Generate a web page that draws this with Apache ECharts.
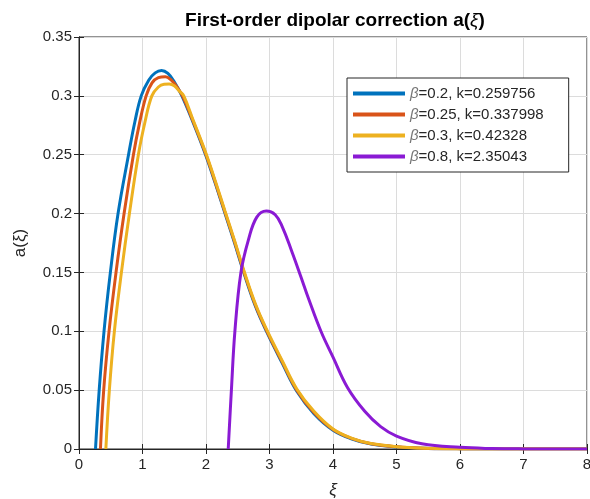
<!DOCTYPE html>
<html>
<head>
<meta charset="utf-8">
<script src="https://cdn.jsdelivr.net/npm/echarts@6/dist/echarts.min.js"></script>
<style>html,body{margin:0;padding:0;background:#fff}#c{width:590px;height:499px}</style>
</head>
<body>
<div id="c"></div>
<script>
// Data: [xi, a(xi)]
const seriesNames = ['β=0.2, k=0.259756', 'β=0.25, k=0.337998', 'β=0.3, k=0.42328', 'β=0.8, k=2.35043'];
const beta02 = [[0.26,0],[0.318,0.05],[0.394,0.10],[0.494,0.15],[0.615,0.20],[0.78,0.25],[0.88,0.278],[0.98,0.30],[1.1,0.3135],[1.2,0.3195],[1.3,0.3215],[1.4,0.319],[1.5,0.312],[1.62,0.30],[1.8,0.277],[2.0,0.249],[2.15,0.225],[2.3,0.200],[2.45,0.175],[2.6,0.149],[2.78,0.121],[2.96,0.099],[3.2,0.073],[3.43,0.049],[3.7,0.030],[4.0,0.016],[4.3,0.0085],[4.6,0.0042],[5.0,0.0018],[5.5,0.0005],[6.0,0.0001],[7.0,0],[8.0,0]];
const beta025 = [[0.338,0],[0.389,0.05],[0.473,0.10],[0.583,0.15],[0.71,0.20],[0.857,0.25],[0.95,0.276],[1.057,0.30],[1.15,0.311],[1.25,0.3155],[1.36,0.3163],[1.45,0.3135],[1.55,0.307],[1.63,0.30],[1.8,0.278],[2.0,0.250],[2.15,0.226],[2.3,0.201],[2.45,0.176],[2.6,0.150],[2.78,0.122],[2.96,0.100],[3.2,0.074],[3.43,0.050],[3.7,0.031],[4.0,0.0165],[4.3,0.0088],[4.6,0.0044],[5.0,0.0019],[5.5,0.0005],[6.0,0.0001],[7.0,0],[8.0,0]];
const beta03 = [[0.423,0],[0.478,0.05],[0.557,0.10],[0.668,0.15],[0.794,0.20],[0.935,0.25],[1.04,0.278],[1.147,0.30],[1.25,0.3075],[1.34,0.3098],[1.42,0.310],[1.5,0.3085],[1.58,0.304],[1.65,0.30],[1.8,0.279],[2.0,0.251],[2.15,0.227],[2.3,0.202],[2.45,0.177],[2.6,0.151],[2.78,0.123],[2.96,0.101],[3.2,0.075],[3.43,0.051],[3.7,0.032],[4.0,0.017],[4.3,0.009],[4.6,0.0046],[5.0,0.002],[5.5,0.0006],[6.0,0.0001],[7.0,0],[8.0,0]];
const beta08 = [[2.35,0],[2.40,0.05],[2.455,0.10],[2.55,0.15],[2.67,0.178],[2.8,0.197],[2.95,0.2022],[3.09,0.199],[3.2,0.189],[3.35,0.168],[3.49,0.147],[3.62,0.127],[3.81,0.10],[4.0,0.078],[4.23,0.052],[4.5,0.032],[4.75,0.019],[5.0,0.011],[5.4,0.0045],[6.0,0.0014],[6.5,0.0004],[7.0,0.0001],[8.0,0]];
const xTicks = [0,1,2,3,4,5,6,7,8];
const yTicks = [0,0.05,0.1,0.15,0.2,0.25,0.3,0.35];
const colors = ['#0072BD', '#D95319', '#EDB120', '#8A1AD4'];

const FONT = '"Liberation Sans", Arial, sans-serif';
const TXT = '#262626';
const chart = echarts.init(document.getElementById('c'), null, {renderer: 'canvas'});
const allData = [beta02, beta025, beta03, beta08];

const axisCommon = {
  axisLine: {show: true, lineStyle: {color: TXT, width: 1}},
  axisTick: {show: true, inside: true, length: 5, lineStyle: {color: TXT}},
  splitLine: {show: false}
};

chart.setOption({
  animation: false,
  backgroundColor: '#fff',
  color: colors,
  title: {
    text: 'First-order dipolar correction a({i|ξ})',
    left: 330, top: 6, textAlign: 'center',
    textStyle: {fontFamily: FONT, fontSize: 19, fontWeight: 'bold', color: '#000',
      rich: {i: {fontFamily: FONT, fontSize: 19, fontStyle: 'italic', fontWeight: 'normal', color: '#000'}}}
  },
  legend: {
    orient: 'vertical', left: 347, top: 78,
    padding: [7, 25, 7, 6],
    backgroundColor: '#fff', borderColor: TXT, borderWidth: 1,
    itemWidth: 52, itemHeight: 4, itemGap: 4,
    icon: 'rect',
    data: seriesNames,
    formatter: function (n) { return '{g|β}' + n.slice(1); },
    textStyle: {fontFamily: FONT, fontSize: 15, color: TXT, lineHeight: 17,
      rich: {g: {fontFamily: FONT, fontSize: 15, fontStyle: 'italic', color: '#777', lineHeight: 17}}}
  },
  grid: {left: 79, right: 3, top: 37, bottom: 50, show: true, borderColor: TXT, borderWidth: 1, backgroundColor: '#fff', outerBoundsMode: 'none', containLabel: false},
  xAxis: [Object.assign({}, axisCommon, {
    type: 'value', min: 0, max: 8, interval: 1, position: 'bottom',
    name: 'ξ', nameLocation: 'middle', nameGap: 33,
    nameTextStyle: {fontFamily: FONT, fontSize: 17, fontStyle: 'italic', color: TXT},
    axisLabel: {fontFamily: FONT, fontSize: 15, color: TXT, margin: 8,
      formatter: function (v) { return xTicks.indexOf(v) >= 0 ? String(v) : ''; }},
    splitLine: {show: true, lineStyle: {color: '#dcdcdc', width: 1}}
  }), Object.assign({}, axisCommon, {
    type: 'value', min: 0, max: 8, interval: 1, position: 'top',
    axisLabel: {show: false}
  })],
  yAxis: [Object.assign({}, axisCommon, {
    type: 'value', min: 0, max: 0.35, interval: 0.05, position: 'left',
    name: 'a(ξ)', nameLocation: 'middle', nameGap: 50,
    nameTextStyle: {fontFamily: FONT, fontSize: 17, color: TXT},
    axisLabel: {fontFamily: FONT, fontSize: 15, color: TXT, margin: 7,
      formatter: function (v) {
        const r = Math.round(v * 100) / 100;
        return yTicks.indexOf(r) >= 0 ? String(r) : '';
      }},
    splitLine: {show: true, lineStyle: {color: '#dcdcdc', width: 1}}
  }), Object.assign({}, axisCommon, {
    type: 'value', min: 0, max: 0.35, interval: 0.05, position: 'right',
    axisLabel: {show: false}
  })],
  series: allData.map(function (d, i) {
    return {
      name: seriesNames[i], type: 'line', data: d,
      xAxisIndex: 0, yAxisIndex: 0,
      showSymbol: false, smooth: 0.4,
      lineStyle: {width: 3, color: colors[i]},
      itemStyle: {color: colors[i]},
      z: 2 + i
    };
  })
});
</script>
</body>
</html>
